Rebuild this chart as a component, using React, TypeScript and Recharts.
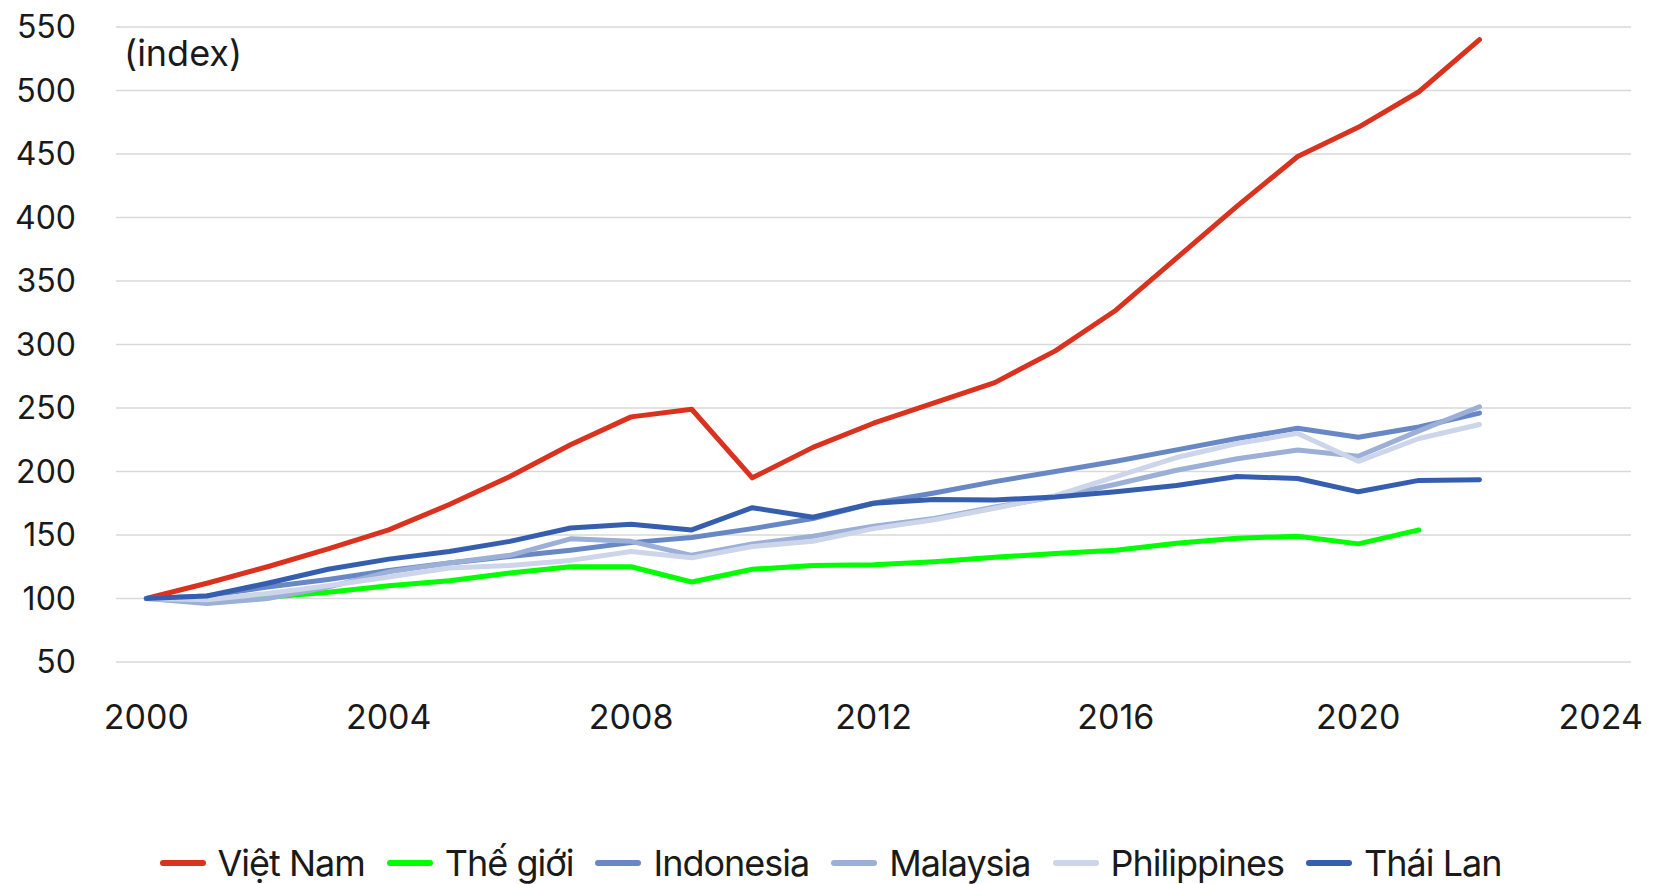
import { LineChart, Line, XAxis, YAxis, CartesianGrid, Legend } from "recharts";

const years = [
  2000, 2001, 2002, 2003, 2004, 2005, 2006, 2007, 2008, 2009, 2010, 2011,
  2012, 2013, 2014, 2015, 2016, 2017, 2018, 2019, 2020, 2021, 2022,
];

const vietNam = [100, 112, 125, 139, 154, 174, 196, 221, 243, 249, 195, 219, 238, 254, 270, 295, 327, 368, 409, 448, 471, 499, 540];
const theGioi = [100, 100, 101, 105, 110, 114, 120, 125, 125, 113, 123, 126, 126.5, 129, 132.5, 135.5, 138, 143.5, 147.5, 149, 143, 154, null];
const indonesia = [100, 102, 109, 115, 122, 128, 133, 138, 144, 148, 155, 163, 175, 183, 192, 200, 208, 217, 226, 234, 227, 235, 246];
const malaysia = [100, 96, 100, 109, 121, 128, 134, 147, 145, 134, 143, 149, 157, 163, 172, 180, 190, 201, 210, 217, 212, 232, 251];
const philippines = [100, 99, 104, 110, 117, 124, 126, 130, 137, 132, 141, 145, 155, 162, 171, 181, 196, 211, 222, 230, 208, 226, 237];
const thaiLan = [100, 102, 112, 123, 131, 137, 145, 155.5, 158.5, 154, 171.5, 164, 175, 178, 177.5, 180, 184, 189, 196, 194.5, 184, 193, 193.5];

const yTicks = [50, 100, 150, 200, 250, 300, 350, 400, 450, 500, 550];
const xTicks = [2000, 2004, 2008, 2012, 2016, 2020, 2024];

const series = [
  { key: "vn", name: "Việt Nam", values: vietNam, color: "#d9321f" },
  { key: "tg", name: "Thế giới", values: theGioi, color: "#00ff00" },
  { key: "id", name: "Indonesia", values: indonesia, color: "#6887c5" },
  { key: "my", name: "Malaysia", values: malaysia, color: "#9bafd7" },
  { key: "ph", name: "Philippines", values: philippines, color: "#ccd5e9" },
  { key: "th", name: "Thái Lan", values: thaiLan, color: "#355fae" },
];

const data = years.map((year, i) => {
  const row: Record<string, number | null> = { year };
  series.forEach((s) => {
    row[s.key] = s.values[i];
  });
  return row;
});

const font = "Inter, 'Noto Sans', sans-serif";

function LegendRow() {
  return (
    <div
      style={{
        height: 46,
        display: "flex",
        justifyContent: "center",
        alignItems: "center",
        fontFamily: font,
        fontSize: 36,
        letterSpacing: -1,
        color: "#1a1a1a",
        gap: 22,
      }}
    >
      {series.map((s) => (
        <div key={s.key} style={{ display: "flex", alignItems: "center", gap: 12 }}>
          <div style={{ width: 46, height: 6, borderRadius: 3, background: s.color }} />
          <span>{s.name}</span>
        </div>
      ))}
    </div>
  );
}

export default function App() {
  return (
    <div style={{ position: "absolute", left: 0, top: 0, width: 1661, height: 884, overflow: "hidden", background: "#fff" }}>
      <LineChart
        width={1661}
        height={884}
        data={data}
        margin={{ top: 27, right: 30, bottom: 96, left: 0 }}
      >
        <CartesianGrid vertical={false} stroke="#d9d9d9" strokeWidth={1.5} />
        <XAxis
          dataKey="year"
          type="number"
          domain={[1999.5, 2024.5]}
          ticks={xTicks}
          axisLine={false}
          tickLine={false}
          tickMargin={37}
          height={80}
          tick={{ fontSize: 34, fill: "#1a1a1a", fontFamily: font }}
        />
        <YAxis
          domain={[50, 550]}
          ticks={yTicks}
          width={116}
          axisLine={false}
          tickLine={false}
          tickMargin={34}
          tick={{ fontSize: 32, fill: "#1a1a1a", fontFamily: font }}
          label={() => (
            <text x={124} y={66} fontSize={36} fill="#1a1a1a" fontFamily={font}>
              (index)
            </text>
          )}
        />
        <Legend
          verticalAlign="bottom"
          content={() => <LegendRow />}
          wrapperStyle={{ top: 840, bottom: "auto", left: 0, width: 1661 }}
        />
        {series.map((s) => (
          <Line
            key={s.key}
            dataKey={s.key}
            name={s.name}
            stroke={s.color}
            strokeWidth={5}
            strokeLinecap="round"
            strokeLinejoin="round"
            dot={false}
            activeDot={false}
            isAnimationActive={false}
            connectNulls={false}
          />
        ))}
      </LineChart>
    </div>
  );
}
